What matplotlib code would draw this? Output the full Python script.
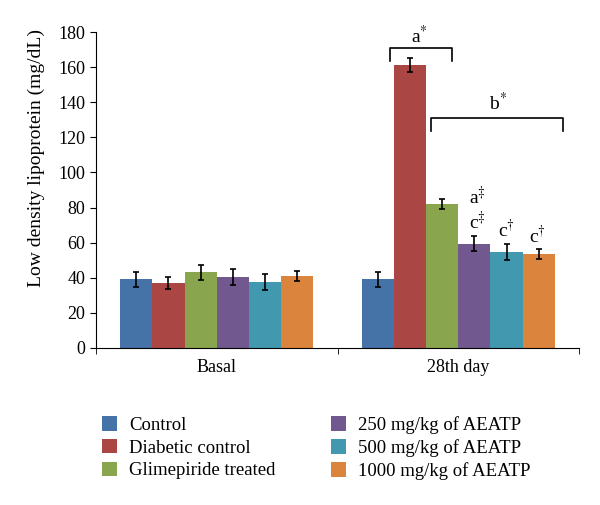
import numpy as np
import matplotlib.pyplot as plt

plt.rcParams['font.family'] = ['Liberation Serif', 'DejaVu Serif']
plt.rcParams['mathtext.fontset'] = 'stix'

groups = ['Basal', '28th day']
series = ['Control', 'Diabetic control', 'Glimepiride treated',
          '250 mg/kg of AEATP', '500 mg/kg of AEATP', '1000 mg/kg of AEATP']
colors = ['#4572A7', '#AA4643', '#89A54E', '#71588F', '#4198AF', '#DB843D']

# values per series: [basal, 28th day]
ldl = [[39, 39], [37, 161], [43, 82], [40.5, 59.5], [37.5, 54.5], [41, 53.5]]
err = [[4, 4.5], [3.5, 4], [4.5, 3], [4.5, 4.5], [4.5, 4.5], [3, 3]]

fig = plt.figure(figsize=(6, 5.05), dpi=100)
ax = fig.add_axes([0.16, 0.311, 0.805, 0.6256])

x = np.arange(len(groups))
w = 0.8 / len(series)
for i, name in enumerate(series):
    pos = x + (i - (len(series) - 1) / 2) * w
    ax.bar(pos, ldl[i], w, color=colors[i], label=name, zorder=2)
    ax.errorbar(pos, ldl[i], yerr=err[i], fmt='none', ecolor='black',
                elinewidth=1.2, capsize=2.2, capthick=1.2, zorder=3)

ax.set_xlim(-0.5, 1.5)
ax.set_ylim(0, 180)
ax.set_yticks(np.arange(0, 181, 20))
ax.set_xticks(x)
ax.set_xticklabels(groups)
ax.set_xticks([-0.5, 0.5, 1.5], minor=True)
ax.tick_params(axis='x', which='major', length=0, labelsize=13, pad=8)
ax.tick_params(axis='x', which='minor', length=4, direction='out')
ax.tick_params(axis='y', labelsize=13, length=4, direction='out')
for s in ['top', 'right']:
    ax.spines[s].set_visible(False)
ax.set_ylabel('Low density lipoprotein (mg/dL)', fontsize=14)
ax.yaxis.set_label_coords(-0.105, 0.60)

# significance brackets
def bracket(x0, x1, y, drop, label, lx, ly):
    ax.plot([x0, x0, x1, x1], [y - drop, y, y, y - drop], color='black',
            lw=1.2, clip_on=False)
    ax.text(lx, ly, label, ha='center', va='center', fontsize=14)

bracket(0.717, 0.974, 171, 7.5, r'a$^{*}$', 0.84, 177.5)
bracket(0.887, 1.434, 131, 7.5, r'b$^{*}$', 1.165, 139.5)

ax.text(1.078, 86, r'a$^{\ddagger}$', ha='center', va='center', fontsize=14)
ax.text(1.078, 72, r'c$^{\ddagger}$', ha='center', va='center', fontsize=14)
ax.text(1.20, 67, r'c$^{\dagger}$', ha='center', va='center', fontsize=14)
ax.text(1.33, 64, r'c$^{\dagger}$', ha='center', va='center', fontsize=14)

fig.legend(loc='upper left', bbox_to_anchor=(0.17, 0.176), ncol=2,
           frameon=False, fontsize=13.5, handlelength=0.8, handleheight=0.8,
           columnspacing=2.95, labelspacing=0.27, handletextpad=0.65,
           borderpad=0, borderaxespad=0)

fig.savefig('out.png', dpi=100)
